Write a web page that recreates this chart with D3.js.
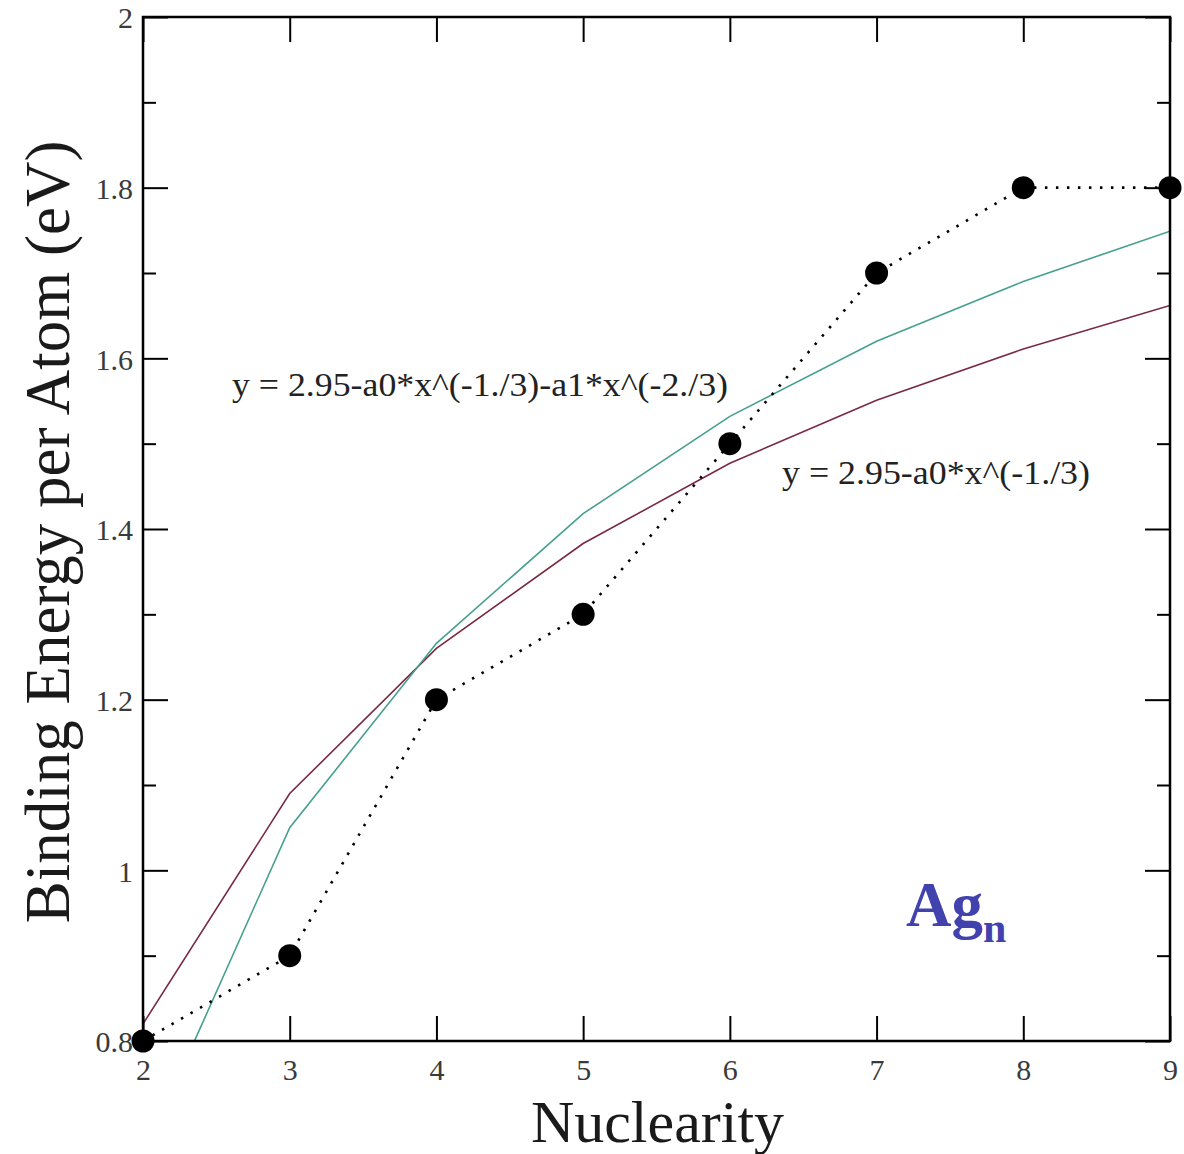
<!DOCTYPE html>
<html><head><meta charset="utf-8">
<script src="https://cdn.jsdelivr.net/npm/d3@7"></script>
<style>html,body{margin:0;padding:0;background:#fff;}svg{display:block;}</style>
</head><body>
<svg id="c" width="1184" height="1154"></svg>
<script>
const nuclearity = [2, 3, 4, 5, 6, 7, 8, 9];
const bindingEnergy = [0.8, 0.9, 1.2, 1.3, 1.5, 1.7, 1.8, 1.8];
const fitOneTerm = [0.82, 1.09, 1.26, 1.383, 1.477, 1.551, 1.611, 1.662];
const fitTwoTerm = [0.665, 1.05, 1.266, 1.418, 1.532, 1.62, 1.69, 1.749];
const xTickValues = [2, 3, 4, 5, 6, 7, 8, 9];
const xTickLabels = ["2", "3", "4", "5", "6", "7", "8", "9"];
const yTickValues = [0.8, 1.0, 1.2, 1.4, 1.6, 1.8, 2.0];
const yTickLabels = ["0.8", "1", "1.2", "1.4", "1.6", "1.8", "2"];
const yMinorValues = [0.9, 1.1, 1.3, 1.5, 1.7, 1.9];
const fitLabels = ["y = 2.95-a0*x^(-1./3)-a1*x^(-2./3)", "y = 2.95-a0*x^(-1./3)"];

const svg = d3.select("#c");
const L = 143, R = 1170, T = 17, B = 1041;
const x = d3.scaleLinear().domain([2, 9]).range([L, R]);
const y = d3.scaleLinear().domain([0.8, 2]).range([B, T]);
const serif = "'Liberation Serif','Times New Roman',serif";

svg.append("defs").append("clipPath").attr("id", "clip")
  .append("rect").attr("x", L).attr("y", T).attr("width", R - L).attr("height", B - T);

const line = d3.line().x((d, i) => x(nuclearity[i])).y(d => y(d));
const g = svg.append("g").attr("clip-path", "url(#clip)");
g.append("path").datum(fitOneTerm).attr("d", line)
  .attr("fill", "none").attr("stroke", "#7a2a40").attr("stroke-width", 1.6);
g.append("path").datum(fitTwoTerm).attr("d", line)
  .attr("fill", "none").attr("stroke", "#45a08e").attr("stroke-width", 1.6);

svg.append("path").datum(bindingEnergy).attr("d", line)
  .attr("fill", "none").attr("stroke", "#000").attr("stroke-width", 2.6)
  .attr("stroke-dasharray", "2.5,8.5");

function styleAxis(sel) {
  sel.select(".domain").remove();
  sel.selectAll(".tick line").attr("stroke", "#000").attr("stroke-width", 2);
  sel.selectAll(".tick text").attr("fill", "#3a3a3a").attr("font-family", serif).attr("font-size", 30);
}
const xb = svg.append("g").attr("transform", `translate(0,${B})`)
  .call(d3.axisBottom(x).tickValues(xTickValues).tickFormat((d, i) => xTickLabels[i]).tickSize(-25).tickPadding(18));
styleAxis(xb);
const xt = svg.append("g").attr("transform", `translate(0,${T})`)
  .call(d3.axisTop(x).tickValues(xTickValues).tickFormat("").tickSize(-25));
styleAxis(xt);
const yl = svg.append("g").attr("transform", `translate(${L},0)`)
  .call(d3.axisLeft(y).tickValues(yTickValues).tickFormat((d, i) => yTickLabels[i]).tickSize(-25).tickPadding(10));
styleAxis(yl);
yl.selectAll(".tick text").attr("dy", "0.36em");
const ylm = svg.append("g").attr("transform", `translate(${L},0)`)
  .call(d3.axisLeft(y).tickValues(yMinorValues).tickFormat("").tickSize(-13));
styleAxis(ylm);
const yr = svg.append("g").attr("transform", `translate(${R},0)`)
  .call(d3.axisRight(y).tickValues(yTickValues).tickFormat("").tickSize(-25));
styleAxis(yr);
const yrm = svg.append("g").attr("transform", `translate(${R},0)`)
  .call(d3.axisRight(y).tickValues(yMinorValues).tickFormat("").tickSize(-13));
styleAxis(yrm);

svg.append("rect").attr("x", L).attr("y", T).attr("width", R - L).attr("height", B - T)
  .attr("fill", "none").attr("stroke", "#000").attr("stroke-width", 2.5);

svg.append("g").selectAll("circle").data(bindingEnergy).join("circle")
  .attr("cx", (d, i) => x(nuclearity[i])).attr("cy", d => y(d)).attr("r", 11.5).attr("fill", "#000");

svg.append("text").attr("x", (L + R) / 2 + 1).attr("y", 1142).attr("text-anchor", "middle")
  .attr("font-family", serif).attr("font-size", 60).attr("fill", "#1a1a1a").text("Nuclearity");
svg.append("text").attr("transform", "translate(69,532) rotate(-90)").attr("text-anchor", "middle")
  .attr("font-family", serif).attr("font-size", 63).attr("fill", "#1a1a1a").text("Binding Energy per Atom (eV)");

svg.append("text").attr("x", 232).attr("y", 396).attr("font-family", serif).attr("font-size", 34)
  .attr("fill", "#222").attr("textLength", 496).attr("lengthAdjust", "spacingAndGlyphs").text(fitLabels[0]);
svg.append("text").attr("x", 782).attr("y", 484).attr("font-family", serif).attr("font-size", 34)
  .attr("fill", "#222").attr("textLength", 308).attr("lengthAdjust", "spacingAndGlyphs").text(fitLabels[1]);

const ag = svg.append("text").attr("x", 906).attr("y", 926).attr("font-family", serif)
  .attr("font-weight", "bold").attr("fill", "#4242ae");
ag.append("tspan").attr("font-size", 63).text("Ag");
ag.append("tspan").attr("font-size", 42).attr("dy", 16).text("n");
</script>
</body></html>
